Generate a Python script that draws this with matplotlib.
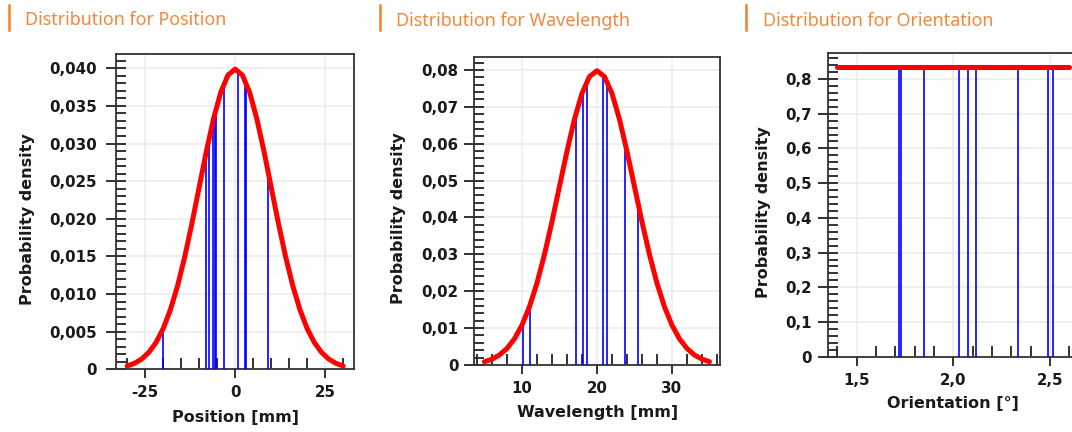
import matplotlib
matplotlib.use("Agg")
import matplotlib.pyplot as plt
from matplotlib.lines import Line2D
from matplotlib.ticker import MultipleLocator, FuncFormatter

# ---- data ----
# Position: normal pdf curve, mean 0
pos_x = [-30, -28, -26, -24, -22, -20, -18, -16, -14, -12, -10, -8, -6, -4, -2, 0,
         2, 4, 6, 8, 10, 12, 14, 16, 18, 20, 22, 24, 26, 28, 30]
pos_pdf = [0.00044, 0.00079, 0.00136, 0.00224, 0.00355, 0.00540, 0.00790, 0.01109,
           0.01497, 0.01942, 0.02420, 0.02897, 0.03332, 0.03682, 0.03910, 0.03989,
           0.03910, 0.03682, 0.03332, 0.02897, 0.02420, 0.01942, 0.01497, 0.01109,
           0.00790, 0.00540, 0.00355, 0.00224, 0.00136, 0.00079, 0.00044]
pos_samples = [-20.1, -8.1, -7.2, -6.1, -5.5, -5.2, -3.2, 0.7, 2.8, 3.1, 9.1]
pos_heights = [0.00560, 0.02874, 0.03078, 0.03312, 0.03430, 0.03485, 0.03790,
               0.03979, 0.03836, 0.03802, 0.02636]

# Wavelength: normal pdf curve, mean 20
wl_x = [5, 6, 7, 8, 9, 10, 11, 12, 13, 14, 15, 16, 17, 18, 19, 20,
        21, 22, 23, 24, 25, 26, 27, 28, 29, 30, 31, 32, 33, 34, 35]
wl_pdf = [0.00089, 0.00158, 0.00271, 0.00448, 0.00709, 0.01080, 0.01579, 0.02218,
          0.02995, 0.03884, 0.04839, 0.05794, 0.06665, 0.07365, 0.07821, 0.07979,
          0.07821, 0.07365, 0.06665, 0.05794, 0.04839, 0.03884, 0.02995, 0.02218,
          0.01579, 0.01080, 0.00709, 0.00448, 0.00271, 0.00158, 0.00089]
wl_samples = [10.13, 11.1, 17.2, 18.1, 18.7, 20.8, 21.4, 23.7, 25.5]
wl_heights = [0.01138, 0.01637, 0.06822, 0.07423, 0.07714, 0.07878, 0.07673,
              0.06068, 0.04357]

# Orientation: uniform pdf
ori_x = [1.4, 2.6]
ori_pdf = [0.8333, 0.8333]
ori_samples = [1.721, 1.728, 1.850, 2.029, 2.078, 2.117, 2.336, 2.488, 2.514]
ori_heights = [0.8333] * len(ori_samples)

titles = ["Distribution for Position", "Distribution for Wavelength",
          "Distribution for Orientation"]
xlabels = ["Position [mm]", "Wavelength [mm]", "Orientation [°]"]

W, H = 1072, 432
fig = plt.figure(figsize=(W / 100, H / 100), dpi=100)


def frac(left, right, top, bottom):
    return [left / W, 1 - bottom / H, (right - left) / W, (bottom - top) / H]


def comma_fmt(dec):
    def f(v, pos):
        if abs(v) < 1e-12:
            return "0"
        return f"{v:.{dec}f}".replace(".", ",")
    return FuncFormatter(f)


panels = [
    dict(rect=frac(116, 354, 54, 369.3), x=pos_x, y=pos_pdf, s=pos_samples, h=pos_heights,
         xlim=(-33.1, 33.0), ylim=(0, 0.0419), xmaj=25, xmin=5, ymaj=0.005, ymin=0.001,
         xdec=0, ydec=3, ypad=6, ylab_x=-0.37),
    dict(rect=frac(474.3, 720, 56.7, 365), x=wl_x, y=wl_pdf, s=wl_samples, h=wl_heights,
         xlim=(3.65, 36.4), ylim=(0, 0.0836), xmaj=10, xmin=2, ymaj=0.01, ymin=0.002,
         xdec=0, ydec=2, ypad=4, ylab_x=-0.31),
    dict(rect=frac(827.7, 1079, 53.3, 356.7), x=ori_x, y=ori_pdf, s=ori_samples, h=ori_heights,
         xlim=(1.35, 2.65), ylim=(0, 0.874), xmaj=0.5, xmin=0.1, ymaj=0.1, ymin=0.02,
         xdec=1, ydec=1, ypad=4, ylab_x=-0.257),
]

title_pos = [(25, 25), (396, 26.5), (762.7, 25.5)]
bar_x = [9, 380, 746]

label_kw = dict(fontsize=11.5, fontweight="bold", color="#1a1a1a", family="DejaVu Sans")

for i, p in enumerate(panels):
    ax = fig.add_axes(p["rect"])
    ax.vlines(p["s"], 0, p["h"], colors="#0000ff", linewidth=1.2, zorder=3)
    ax.plot(p["x"], p["y"], color="#ff0000", linewidth=3.6, solid_capstyle="round",
            solid_joinstyle="round", zorder=4)
    ax.set_xlim(*p["xlim"])
    ax.set_ylim(*p["ylim"])

    ax.xaxis.set_major_locator(MultipleLocator(p["xmaj"]))
    ax.xaxis.set_minor_locator(MultipleLocator(p["xmin"]))
    ax.yaxis.set_major_locator(MultipleLocator(p["ymaj"]))
    ax.yaxis.set_minor_locator(MultipleLocator(p["ymin"]))
    if p["xdec"] == 0:
        ax.xaxis.set_major_formatter(FuncFormatter(lambda v, pos: f"{v:.0f}"))
    else:
        ax.xaxis.set_major_formatter(comma_fmt(p["xdec"]))
    ax.yaxis.set_major_formatter(comma_fmt(p["ydec"]))

    ax.grid(True, which="major", color="#ebebeb", linewidth=1.1, zorder=0)
    ax.set_axisbelow(True)

    tick_col = "#222222"
    ax.tick_params(axis="y", which="major", direction="inout", length=15, width=1.3,
                   color=tick_col, pad=p["ypad"], labelsize=10.8, labelcolor="#1a1a1a")
    ax.tick_params(axis="y", which="minor", direction="in", length=7, width=1.3,
                   color=tick_col)
    ax.tick_params(axis="x", which="major", direction="out", length=6.5, width=1.3,
                   color=tick_col, pad=5, labelsize=10.8, labelcolor="#1a1a1a")
    ax.tick_params(axis="x", which="minor", direction="in", length=8, width=1.3,
                   color=tick_col)
    for lab in ax.get_xticklabels() + ax.get_yticklabels():
        lab.set_fontweight("bold")

    for sp in ax.spines.values():
        sp.set_color("#333333")
        sp.set_linewidth(1.3)

    ax.set_ylabel("Probability density", va="center", **label_kw)
    ax.yaxis.set_label_coords(p["ylab_x"], 0.475)
    ax.set_xlabel(xlabels[i], va="center", **label_kw)
    ax.xaxis.set_label_coords(0.5, -0.153)

    tx, ty = title_pos[i]
    fig.text(tx / W, 1 - ty / H, titles[i], fontsize=12.9, color="#f0883f",
             family="Noto Sans", ha="left", va="baseline")
    fig.add_artist(Line2D([bar_x[i] / W] * 2, [1 - 5 / H, 1 - 30 / H],
                          transform=fig.transFigure, color="#f58025", linewidth=1.8))

fig.savefig("out.png", dpi=100)
